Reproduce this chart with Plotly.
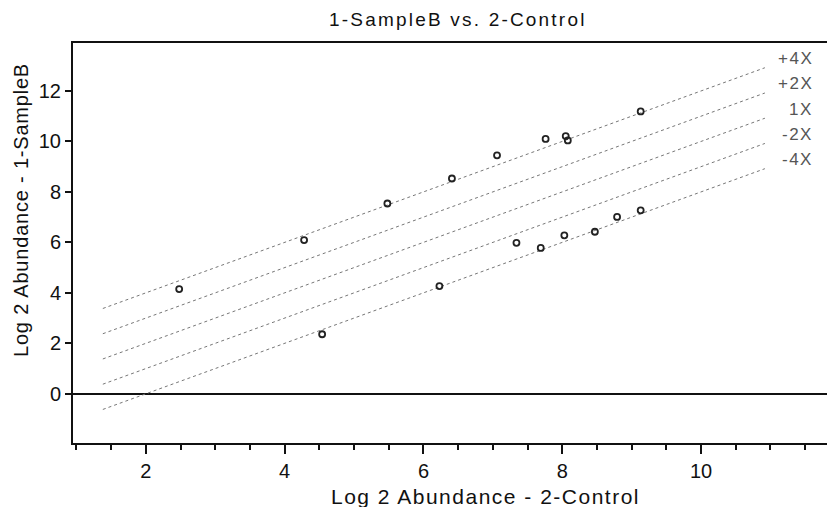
import plotly.graph_objects as go

TITLE = "1-SampleB vs. 2-Control"
X_TITLE = "Log 2 Abundance - 2-Control"
Y_TITLE = "Log 2 Abundance - 1-SampleB"

# measured spots (log2 abundance)
control = [2.48, 4.28, 4.54, 5.48, 6.23, 6.41, 7.06, 7.34, 7.69, 7.76, 8.03, 8.05, 8.08, 8.47, 8.79, 9.13, 9.13]
sample_b = [4.15, 6.09, 2.36, 7.54, 4.27, 8.53, 9.45, 5.98, 5.78, 10.10, 6.28, 10.21, 10.04, 6.42, 7.01, 7.27, 11.19]

# fold-change guide lines: y = x + offset
fold_labels = ["+4X", "+2X", "1X", "-2X", "-4X"]
fold_offsets = [2, 1, 0, -1, -2]
line_x = [1.38, 10.92]

FONT = "Liberation Sans, Arial, sans-serif"

# page body has an 8px margin, so the figure is drawn 8px in from the window edge
PAGE = 8
W, H = 835 - PAGE, 507 - PAGE
L, R, T, B = 73 - PAGE, 0, 43 - PAGE, 64


def spaced(text, px):
    return f'<span style="letter-spacing:{px}px">{text}</span>'


def paper(sx, sy):
    # screenshot pixel -> paper coordinates
    fx, fy = sx - PAGE, sy - PAGE
    return (fx - L) / (W - L - R), (H - B - fy) / (H - T - B)


fig = go.Figure()
annotations = []
for label, off in zip(fold_labels, fold_offsets):
    ys = [x + off for x in line_x]
    fig.add_trace(
        go.Scatter(
            x=line_x,
            y=ys,
            mode="lines",
            line={"color": "#777", "width": 1, "dash": "dot"},
            hoverinfo="skip",
            showlegend=False,
        )
    )
    annotations.append(
        dict(
            x=line_x[1], y=ys[1], text=spaced(label, 1.5), showarrow=False,
            xanchor="right", yanchor="middle", xshift=50, yshift=9,
            font={"size": 17, "color": "#555", "family": FONT},
        )
    )

fig.add_trace(
    go.Scatter(
        x=control,
        y=sample_b,
        mode="markers",
        marker={"symbol": "circle-open", "size": 6, "color": "#222", "line": {"width": 1.8}},
        showlegend=False,
    )
)

tx, ty = paper(458, 20)
xx, xy = paper(485, 496)
yx, yy = paper(21, 210)
annotations += [
    dict(x=tx, y=ty, xref="paper", yref="paper", text=spaced(TITLE, 2.2), showarrow=False,
         xanchor="center", yanchor="middle", font={"size": 19, "color": "#111", "family": FONT}),
    dict(x=xx, y=xy, xref="paper", yref="paper", text=spaced(X_TITLE, 1.5), showarrow=False,
         xanchor="center", yanchor="middle", font={"size": 21, "color": "#111", "family": FONT}),
    dict(x=yx, y=yy, xref="paper", yref="paper", text=spaced(Y_TITLE, 0.8), showarrow=False,
         xanchor="center", yanchor="middle", textangle=-90,
         font={"size": 20, "color": "#111", "family": FONT}),
]

fig.update_layout(
    width=W,
    height=H,
    margin={"l": L, "r": R, "t": T, "b": B},
    paper_bgcolor="white",
    plot_bgcolor="white",
    font={"family": FONT, "size": 20, "color": "#111"},
    annotations=annotations,
    xaxis={
        "range": [0.95, 11.93],
        "tick0": 0,
        "dtick": 2,
        "ticks": "outside",
        "ticklen": 9,
        "tickwidth": 1.5,
        "tickcolor": "#111",
        "minor": {"dtick": 0.5, "ticks": "outside", "ticklen": 5, "tickcolor": "#111", "tickwidth": 1.5},
        "showgrid": False,
        "zeroline": False,
        "showline": True,
        "mirror": True,
        "linecolor": "#111",
        "linewidth": 2,
    },
    yaxis={
        "range": [-1.95, 13.9],
        "tick0": 0,
        "dtick": 2,
        "ticks": "outside",
        "ticklen": 6,
        "tickwidth": 1.5,
        "tickcolor": "#111",
        "showgrid": False,
        "zeroline": True,
        "zerolinecolor": "#111",
        "zerolinewidth": 2,
        "showline": True,
        "linecolor": "#111",
        "linewidth": 2,
    },
)

fig.write_html("out.html")
